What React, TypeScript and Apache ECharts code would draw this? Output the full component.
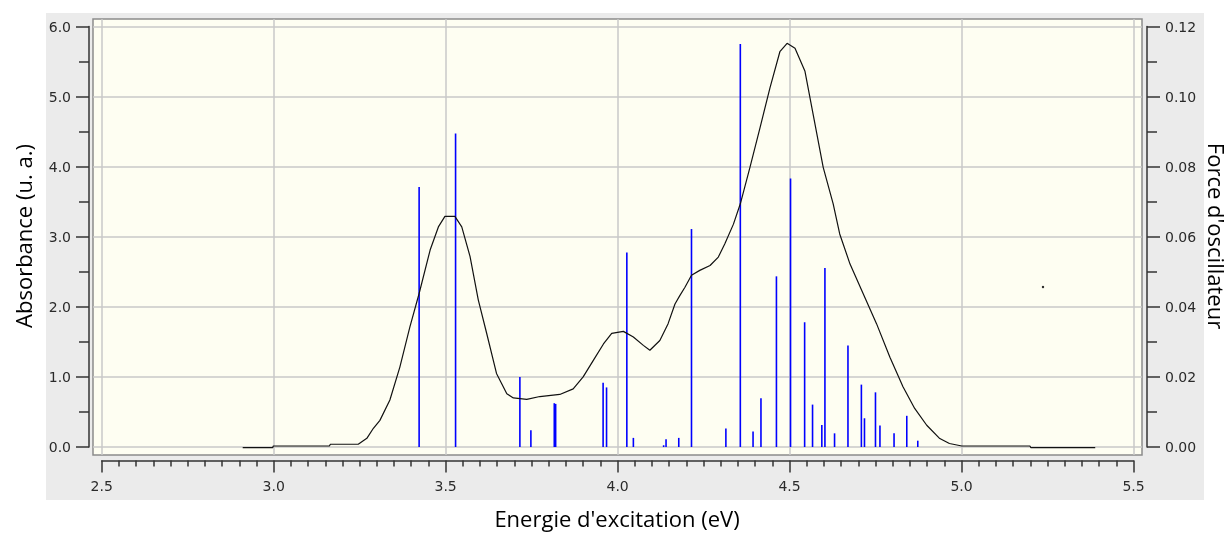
import React, { useEffect, useRef } from "react";
import * as echarts from "echarts";

// Broadened absorption curve (energy in eV, absorbance in a.u.)
const curveE = [
  2.910, 2.997, 2.999, 3.162, 3.165, 3.246, 3.271, 3.290, 3.309, 3.338, 3.367, 3.396,
  3.423, 3.455, 3.479, 3.498, 3.527, 3.547, 3.571, 3.595, 3.619, 3.648, 3.678, 3.697,
  3.736, 3.774, 3.832, 3.871, 3.900, 3.930, 3.959, 3.983, 4.017, 4.046, 4.075, 4.094,
  4.123, 4.147, 4.167, 4.181, 4.196, 4.215, 4.239, 4.269, 4.293, 4.312, 4.337, 4.357,
  4.385, 4.414, 4.443, 4.472, 4.493, 4.516, 4.545, 4.569, 4.598, 4.627, 4.646, 4.676,
  4.714, 4.753, 4.792, 4.830, 4.864, 4.899, 4.937, 4.965, 5.001, 5.199, 5.202, 5.389,
];
const curveA = [
  -0.01, -0.01, 0.014, 0.014, 0.039, 0.039, 0.124, 0.267, 0.38, 0.67, 1.14, 1.71,
  2.19, 2.81, 3.14, 3.29, 3.29, 3.14, 2.72, 2.10, 1.63, 1.05, 0.76, 0.70,
  0.68, 0.72, 0.75, 0.83, 1.00, 1.24, 1.47, 1.62, 1.65, 1.57, 1.45, 1.38,
  1.52, 1.76, 2.04, 2.16, 2.28, 2.45, 2.52, 2.59, 2.71, 2.90, 3.18, 3.47,
  3.99, 4.55, 5.12, 5.64, 5.76, 5.69, 5.36, 4.74, 3.99, 3.47, 3.04, 2.61,
  2.19, 1.76, 1.28, 0.86, 0.55, 0.31, 0.12, 0.05, 0.014, 0.014, -0.01, -0.01,
];

// Transitions (energy in eV, oscillator strength)
const stickE = [
  3.423, 3.529, 3.716, 3.748, 3.816, 3.820, 3.958, 3.968, 4.027, 4.046, 4.134, 4.141,
  4.178, 4.215, 4.315, 4.357, 4.394, 4.417, 4.462, 4.503, 4.544, 4.567, 4.594, 4.603,
  4.631, 4.670, 4.709, 4.718, 4.750, 4.763, 4.804, 4.841, 4.873,
];
const stickF = [
  0.0742, 0.0895, 0.0200, 0.0048, 0.0125, 0.0123, 0.0183, 0.0170, 0.0555, 0.0026, 0.0005, 0.0022,
  0.0026, 0.0622, 0.0053, 0.1150, 0.0044, 0.0139, 0.0487, 0.0766, 0.0356, 0.0121, 0.0063, 0.0511,
  0.0039, 0.0290, 0.0178, 0.0082, 0.0156, 0.0061, 0.0039, 0.0089, 0.0018,
];

const xTitle = "Energie d'excitation (eV)";
const yLeftTitle = "Absorbance (u. a.)";
const yRightTitle = "Force d'oscillateur";

export default function App() {
  const ref = useRef<HTMLDivElement>(null);
  useEffect(() => {
    if (!ref.current) return;
    const chart = echarts.init(ref.current, undefined, { renderer: "svg" });
    const tickFont = { fontFamily: "DejaVu Sans", fontSize: 14, color: "#2a2a2a" };
    const axisCol = "#333";
    const gridCol = "#C9C9C9";
    const titleFont = '22px "Open Sans"';
    const titleStyle = {
      font: titleFont, fill: "#000", lineHeight: 24,
      align: "center", verticalAlign: "middle", textAlign: "center", textVerticalAlign: "middle",
    };
    chart.setOption({
      animation: false,
      grid: [
        { left: 93, top: 19, width: 1049, height: 436, show: false },
        { left: 101.7, top: 19, width: 1031.8, height: 436, show: false },
        { left: 93, top: 26.5, width: 1049, height: 420.5, show: false },
      ],
      xAxis: [
        { gridIndex: 0, type: "value", min: 2.4747, max: 5.525, show: false },
        {
          gridIndex: 1, type: "value", min: 2.5, max: 5.5, interval: 0.5,
          position: "bottom", offset: 5.5,
          axisLine: { show: true, onZero: false, lineStyle: { color: axisCol, width: 1.5 } },
          axisTick: { show: true, length: 12, lineStyle: { color: axisCol, width: 1.5 } },
          minorTick: { show: true, splitNumber: 10, length: 6, lineStyle: { color: axisCol, width: 1.5 } },
          axisLabel: { ...tickFont, margin: 18, formatter: (v: number) => v.toFixed(1) },
          splitLine: { show: true, lineStyle: { color: gridCol, width: 1.5 } },
          minorSplitLine: { show: false },
        },
        { gridIndex: 2, type: "value", min: 0, max: 1, show: false },
      ],
      yAxis: [
        { gridIndex: 0, type: "value", min: -0.1142, max: 6.107, show: false },
        { gridIndex: 0, type: "value", min: -0.1142 / 50, max: 6.107 / 50, show: false },
        { gridIndex: 1, type: "value", min: 0, max: 1, show: false },
        {
          gridIndex: 2, type: "value", min: 0, max: 6, interval: 1, position: "left", offset: 4,
          axisLine: { show: true, onZero: false, lineStyle: { color: axisCol, width: 1.5 } },
          axisTick: { show: true, length: 13, lineStyle: { color: axisCol, width: 1.5 } },
          minorTick: { show: true, splitNumber: 2, length: 10, lineStyle: { color: axisCol, width: 1.5 } },
          axisLabel: { ...tickFont, margin: 18, formatter: (v: number) => v.toFixed(1) },
          splitLine: { show: true, lineStyle: { color: gridCol, width: 1.5 } },
        },
        {
          gridIndex: 2, type: "value", min: 0, max: 0.12, interval: 0.02, position: "right", offset: 5,
          axisLine: { show: true, onZero: false, lineStyle: { color: axisCol, width: 1.5 } },
          axisTick: { show: true, length: 13, lineStyle: { color: axisCol, width: 1.5 } },
          minorTick: { show: true, splitNumber: 2, length: 10, lineStyle: { color: axisCol, width: 1.5 } },
          axisLabel: { ...tickFont, margin: 18, formatter: (v: number) => v.toFixed(2) },
          splitLine: { show: false },
        },
      ],
      graphic: [
        { type: "rect", z: -10, shape: { x: 46, y: 13, width: 1158, height: 487 }, style: { fill: "#EBEBEB" } },
        { type: "rect", z: -9, shape: { x: 93, y: 19, width: 1049, height: 436 }, style: { fill: "#FEFEF2", stroke: "#8C8C8C", lineWidth: 1.5 } },
        { type: "circle", z: 5, shape: { cx: 1043, cy: 287, r: 1.2 }, style: { fill: "#222" } },
        { type: "text", x: 23, y: 236, rotation: Math.PI / 2, style: { text: yLeftTitle, ...titleStyle } },
        { type: "text", x: 1217, y: 236, rotation: -Math.PI / 2, style: { text: yRightTitle, ...titleStyle } },
        { type: "text", x: 617, y: 518, style: { text: xTitle, ...titleStyle } },
      ],
      series: [
        {
          type: "custom", xAxisIndex: 0, yAxisIndex: 1, z: 2,
          data: stickE.map((e, i) => [e, stickF[i]]),
          renderItem: (_params: any, api: any) => {
            const p0 = api.coord([api.value(0), 0]);
            const p1 = api.coord([api.value(0), api.value(1)]);
            return {
              type: "line",
              shape: { x1: p0[0], y1: p0[1], x2: p1[0], y2: p1[1] },
              style: { stroke: "#0000FF", lineWidth: 1.6 },
            };
          },
        },
        {
          type: "line", xAxisIndex: 0, yAxisIndex: 0, z: 3,
          data: curveE.map((e, i) => [e, curveA[i]]),
          symbol: "none", smooth: false,
          lineStyle: { color: "#111", width: 1.2 },
        },
      ],
    });
    return () => chart.dispose();
  }, []);
  return <div ref={ref} style={{ position: "fixed", left: 0, top: 0, width: 1232, height: 533 }} />;
}
